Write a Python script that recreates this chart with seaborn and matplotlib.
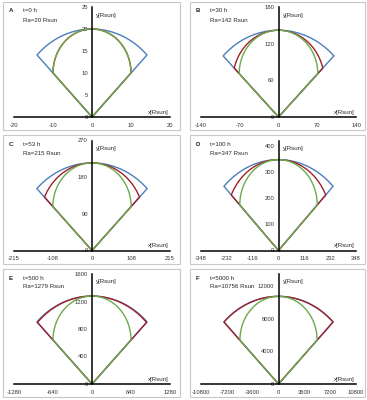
"""Six-panel sketch of cone / sphere / intermediate shapes at different times."""

import matplotlib.pyplot as plt
import numpy as np
import pandas as pd
import seaborn as sns
from matplotlib.patches import Rectangle

# Panel data
letters = ["A", "B", "C", "D", "E", "F"]
times = ["t=0 h", "t=30 h", "t=53 h", "t=100 h", "t=500 h", "t=5000 h"]
ra = [20, 142, 215, 347, 1279, 10756]
ra_labels = ["Ra=20 Rsun", "Ra=142 Rsun", "Ra=215 Rsun", "Ra=347 Rsun",
             "Ra=1279 Rsun", "Ra=10756 Rsun"]

# x where each curve meets the 45 degree flank lines
blue_contact = [14.1, 100, 152, 245, 904, 7606]
red_contact = [10, 80, 131, 212, 895, 7606]
green_contact = [10, 71, 108, 174, 640, 5378]

xticks = [
    [-20, -10, 0, 10, 20],
    [-140, -70, 0, 70, 140],
    [-215, -108, 0, 108, 215],
    [-348, -232, -116, 0, 116, 232, 348],
    [-1280, -640, 0, 640, 1280],
    [-10800, -7200, -3600, 0, 3600, 7200, 10800],
]
yticks = [
    [0, 5, 10, 15, 20, 25],
    [0, 60, 120, 180],
    [0, 90, 180, 270],
    [0, 100, 200, 300, 400],
    [0, 400, 800, 1200, 1600],
    [0, 4000, 8000, 12000],
]
ytop = [25, 180, 270, 420, 1600, 13500]

palette = {"cone": "#4a7ebb", "mid": "#a0202a", "sphere": "#6aab4a"}


def sector(r_apex, a, n=150):
    """Closed outline: origin -> flank contact -> arc through (0, r_apex) -> origin."""
    c = (r_apex**2 - 2 * a**2) / (2 * (r_apex - a))
    r = r_apex - c
    t = np.linspace(np.arctan2(a - c, -a), np.arctan2(a - c, a), n)
    x = np.concatenate([[0], r * np.cos(t), [0]])
    y = np.concatenate([[0], c + r * np.sin(t), [0]])
    return x, y


sns.set_style("white")
plt.rcParams["font.family"] = ["Liberation Sans", "DejaVu Sans"]
plt.rcParams["axes.unicode_minus"] = False

W, H = 367, 400
fig = plt.figure(figsize=(W / 100, H / 100), dpi=100)

box_x = [(3, 180), (190, 365)]
ax_x = [(14, 170), (201, 356)]
row_top = [2, 135.5, 269]
fs = 4.4

for i in range(6):
    row, col = divmod(i, 2)
    top = row_top[row]

    # light grey frame round each panel
    bx0, bx1 = box_x[col]
    fig.add_artist(Rectangle((bx0 / W, 1 - (top + 128) / H), (bx1 - bx0) / W, 128 / H,
                             transform=fig.transFigure, fill=False,
                             edgecolor="#c8c8c8", linewidth=0.8))

    x0, x1 = ax_x[col]
    ax = fig.add_axes([x0 / W, 1 - (top + 115) / H, (x1 - x0) / W, 110 / H])

    frames = []
    for shape, a in [("cone", blue_contact[i]), ("mid", red_contact[i]),
                     ("sphere", green_contact[i])]:
        x, y = sector(ra[i], a)
        frames.append(pd.DataFrame({"x": x, "y": y, "shape": shape}))
    df = pd.concat(frames, ignore_index=True)

    sns.lineplot(data=df, x="x", y="y", hue="shape", palette=palette,
                 hue_order=["cone", "mid", "sphere"], sort=False, estimator=None,
                 legend=False, linewidth=1.0, ax=ax)

    xmax = xticks[i][-1]
    ax.set_xlim(-xmax, xmax)
    ax.set_ylim(0, ytop[i])
    ax.set_xticks(xticks[i])
    ax.set_yticks(yticks[i])
    ax.set_xlabel("")
    ax.set_ylabel("")
    ax.patch.set_alpha(0)
    for side in ["top", "right"]:
        ax.spines[side].set_visible(False)
    ax.spines["left"].set_position(("data", 0))
    ax.spines["bottom"].set_position(("data", 0))
    for side in ["left", "bottom"]:
        ax.spines[side].set_color("black")
        ax.spines[side].set_linewidth(1.1)
    ax.tick_params(length=0, labelsize=4.2, pad=3, labelcolor="#333333")
    ax.tick_params(axis="x", pad=4)

    # panel annotations
    fig.text((bx0 + 6) / W, 1 - (top + 9) / H, letters[i], fontsize=fs,
             fontweight="bold", va="center")
    fig.text((bx0 + 20) / W, 1 - (top + 9) / H, times[i], fontsize=fs, va="center")
    fig.text((bx0 + 20) / W, 1 - (top + 18) / H, ra_labels[i], fontsize=fs, va="center")
    zero_x = (x0 + x1) / 2
    fig.text((zero_x + 4) / W, 1 - (top + 13) / H, "y[Rsun]", fontsize=fs, va="center")
    fig.text((x1 - 1) / W, 1 - (top + 113) / H, "x[Rsun]", fontsize=fs,
             ha="right", va="bottom")

fig.savefig("out.png", dpi=100)
plt.close()
